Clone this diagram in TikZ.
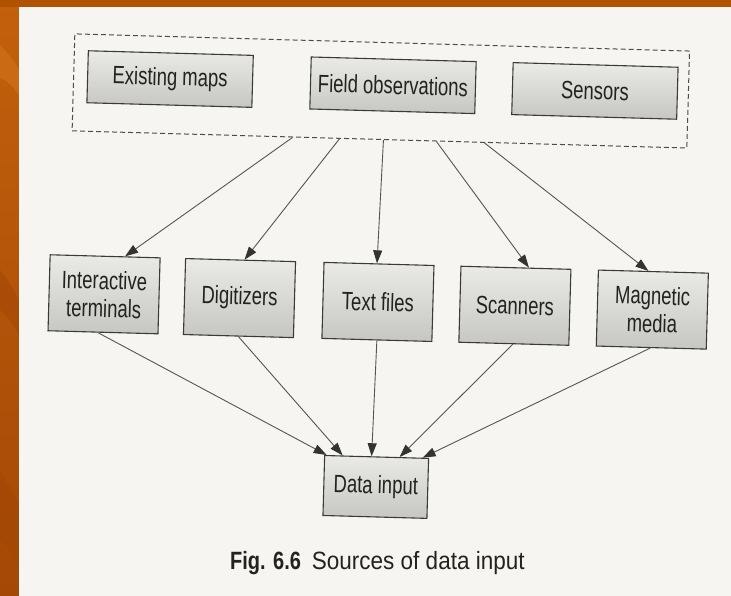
\documentclass[tikz,border=0pt]{standalone}
\usepackage{fontspec}
\usetikzlibrary{arrows.meta}
\newfontfamily\boxfont[FakeStretch=0.74]{Liberation Sans}
\newfontfamily\capfont[FakeStretch=0.9]{Liberation Sans}
\newfontfamily\capboldfont[FakeStretch=0.8]{Liberation Sans Bold}
\definecolor{orangeA}{HTML}{C2600C}
\definecolor{orangeB}{HTML}{D0701A}
\definecolor{orangeC}{HTML}{A44806}
\definecolor{orangeTop}{HTML}{B05200}
\definecolor{pagecol}{HTML}{F6F5F1}
\definecolor{ink}{HTML}{222222}
\definecolor{boxline}{HTML}{3A3A3A}
\definecolor{wire}{HTML}{555555}
\definecolor{boxtop}{HTML}{EAEAE6}
\definecolor{boxbot}{HTML}{C6C6C2}
\begin{document}
\begin{tikzpicture}[x=1pt,y=-1pt,
  srcbox/.style={draw=boxline, line width=1.1pt, top color=boxtop, bottom color=boxbot,
    minimum width=165pt, minimum height=52pt, inner sep=0pt, text=ink,
    font=\boxfont\fontsize{25}{28}\selectfont},
  midbox/.style={srcbox, minimum width=110pt, minimum height=76pt, align=center},
  groupbox/.style={draw=black!70, line width=1pt, dash pattern=on 5pt off 3pt,
    minimum width=615pt, minimum height=97pt, inner sep=0pt},
  feed/.style={draw=wire, line width=0.9pt,
    -{Triangle[length=13pt,width=9pt,color=black!80,fill=black!80]}}
]
\useasboundingbox (0,0) rectangle (731,596);
% slide background
\fill[orangeA] (0,0) rectangle (731,596);
\shade[top color=orangeA, bottom color=orangeC] (0,0) rectangle (19,596);
\fill[orangeB, opacity=0.7] (0,45) .. controls (10,55) and (15,62) .. (19,70) -- (19,95) .. controls (12,85) and (6,80) .. (0,78) -- cycle;
\fill[orangeC, opacity=0.6] (0,270) .. controls (8,280) and (14,290) .. (19,300) -- (19,335) .. controls (12,322) and (6,315) .. (0,310) -- cycle;
\fill[orangeC, opacity=0.8] (0,470) .. controls (8,485) and (14,495) .. (19,505) -- (19,565) .. controls (12,550) and (6,545) .. (0,540) -- cycle;
\fill[orangeTop] (0,0) rectangle (731,7);
\fill[pagecol] (19,7) rectangle (731,596);

\begin{scope}[rotate around={-1.6:(380,300)}, transform shape]
  \node[groupbox] (grp) at (375,91) {};
  \node[srcbox] (maps)  at (164,85) {Existing maps};
  \node[srcbox] (field) at (387,85) {Field observations};
  \node[srcbox] (sens)  at (589,85) {Sensors};

  \node[midbox] (inter) at (104,302)   {Interactive\\terminals};
  \node[midbox] (digit) at (239.5,302) {Digitizers};
  \node[midbox] (textf) at (378,302)   {Text files};
  \node[midbox] (scan)  at (515,302)   {Scanners};
  \node[midbox] (magn)  at (652.5,302) {Magnetic\\media};

  \node[midbox, minimum width=104pt, minimum height=60pt] (data) at (381,487) {Data input};

  \draw[feed] ([xshift=-87pt]grp.south) -- ([xshift=20pt]inter.north);
  \draw[feed] ([xshift=-40pt]grp.south) -- ([xshift=4pt]digit.north);
  \draw[feed] ([xshift=4pt]grp.south)   -- ([xshift=-2pt]textf.north);
  \draw[feed] ([xshift=57pt]grp.south)  -- ([xshift=13pt]scan.north);
  \draw[feed] ([xshift=105pt]grp.south) -- ([xshift=-5pt]magn.north);

  \draw[feed] ([xshift=-5pt]inter.south) -- ([xshift=-50pt]data.north);
  \draw[feed] (digit.south) -- ([xshift=-34pt]data.north);
  \draw[feed] (textf.south) -- ([xshift=-5pt]data.north);
  \draw[feed] ([xshift=-1pt]scan.south) -- ([xshift=23pt]data.north);
  \draw[feed] ([xshift=-1pt]magn.south) -- ([xshift=46pt]data.north);
\end{scope}

\node[text=ink, inner sep=0pt, anchor=base west] (cap) at (230,569)
  {{\capboldfont\fontsize{25}{28}\selectfont Fig. 6.6}\hspace{11pt}{\capfont\fontsize{25}{28}\selectfont Sources of data input}};
\end{tikzpicture}
\end{document}
